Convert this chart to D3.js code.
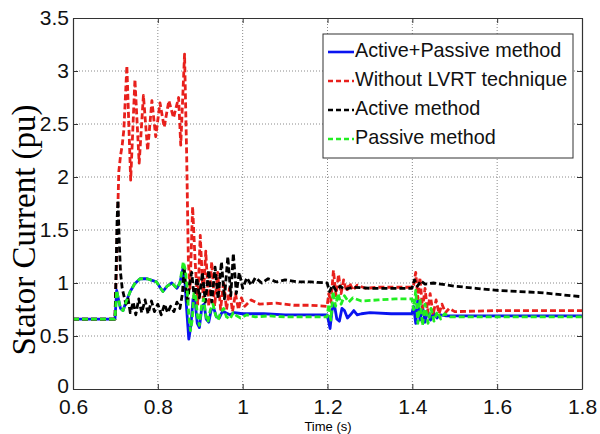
<!DOCTYPE html>
<html>
<head>
<meta charset="utf-8">
<script src="https://cdn.jsdelivr.net/npm/d3@7"></script>
<style>
  body { margin: 0; background: #fff; }
  #chart text { font-family: Arial, 'Liberation Sans', sans-serif; }
</style>
</head>
<body>
<div id="chart"></div>
<script>
// x / y ticks
const xTicks = [0.6, 0.8, 1, 1.2, 1.4, 1.6, 1.8];
const yTicks = [0, 0.5, 1, 1.5, 2, 2.5, 3, 3.5];

const seriesNames = ['Active+Passive method', 'Without LVRT technique', 'Active method', 'Passive method'];

// [time (s), stator current (pu)]
const activePassive = [
  [0.6, 0.66], [0.699, 0.66], [0.703, 0.93], [0.707, 0.85], [0.712, 0.76], [0.718, 0.74],
  [0.725, 0.82], [0.735, 0.92], [0.745, 0.99], [0.758, 1.04], [0.775, 1.04], [0.797, 1.01],
  [0.805, 0.96], [0.812, 0.92], [0.822, 0.97], [0.833, 1.0], [0.845, 0.95], [0.852, 1.0],
  [0.86, 1.15], [0.864, 1.0], [0.868, 0.75], [0.873, 0.47], [0.878, 0.6], [0.883, 0.85],
  [0.888, 0.82], [0.893, 0.62], [0.898, 0.58], [0.904, 0.78], [0.909, 0.8], [0.914, 0.66],
  [0.92, 0.63], [0.926, 0.75], [0.932, 0.76], [0.938, 0.68], [0.945, 0.67], [0.952, 0.73],
  [0.96, 0.72], [0.97, 0.7], [0.98, 0.72], [1.0, 0.71], [1.05, 0.71], [1.1, 0.7], [1.15, 0.7],
  [1.199, 0.7], [1.202, 0.65], [1.206, 0.57], [1.211, 0.75], [1.216, 0.8], [1.222, 0.66],
  [1.228, 0.64], [1.234, 0.76], [1.24, 0.74], [1.247, 0.67], [1.254, 0.7], [1.262, 0.74],
  [1.27, 0.7], [1.28, 0.71], [1.3, 0.72], [1.35, 0.71], [1.399, 0.71], [1.403, 0.78],
  [1.408, 0.62], [1.413, 0.85], [1.418, 0.65], [1.424, 0.78], [1.43, 0.63], [1.436, 0.74],
  [1.443, 0.65], [1.45, 0.72], [1.458, 0.67], [1.466, 0.7], [1.48, 0.69], [1.55, 0.69],
  [1.65, 0.69], [1.8, 0.69]
];

const withoutLvrt = [
  [0.6, 0.66], [0.699, 0.66], [0.702, 1.1], [0.705, 1.6], [0.708, 2.05], [0.712, 2.2],
  [0.716, 2.3], [0.72, 2.45], [0.727, 3.05], [0.736, 1.97], [0.746, 2.92], [0.756, 2.13],
  [0.766, 2.77], [0.776, 2.25], [0.786, 2.72], [0.795, 2.38], [0.805, 2.7], [0.815, 2.47],
  [0.826, 2.72], [0.837, 2.56], [0.849, 2.75], [0.854, 2.3], [0.863, 3.16], [0.868, 2.2],
  [0.872, 1.2], [0.876, 0.95], [0.882, 1.72], [0.888, 1.2], [0.894, 0.8], [0.9, 1.45],
  [0.907, 0.85], [0.913, 1.3], [0.92, 0.78], [0.927, 1.2], [0.934, 0.78], [0.941, 1.1],
  [0.948, 0.75], [0.955, 1.02], [0.962, 0.75], [0.969, 0.95], [0.976, 0.73], [0.983, 0.9],
  [0.99, 0.75], [0.997, 0.86], [1.005, 0.78], [1.02, 0.84], [1.04, 0.8], [1.08, 0.81],
  [1.12, 0.79], [1.16, 0.79], [1.199, 0.78], [1.203, 0.9], [1.208, 0.82], [1.214, 1.12],
  [1.22, 0.88], [1.226, 1.08], [1.232, 0.9], [1.238, 1.03], [1.245, 0.92], [1.252, 1.0],
  [1.26, 0.93], [1.27, 0.98], [1.29, 0.95], [1.32, 0.96], [1.36, 0.96], [1.399, 0.96],
  [1.403, 0.98], [1.408, 1.1], [1.413, 0.85], [1.418, 1.05], [1.424, 0.76], [1.43, 0.95],
  [1.436, 0.72], [1.442, 0.9], [1.449, 0.7], [1.456, 0.84], [1.463, 0.71], [1.47, 0.8],
  [1.478, 0.72], [1.487, 0.76], [1.5, 0.73], [1.6, 0.74], [1.7, 0.74], [1.8, 0.74]
];

const activeMethod = [
  [0.6, 0.66], [0.699, 0.66], [0.701, 1.0], [0.704, 1.6], [0.706, 1.78], [0.709, 1.4],
  [0.712, 1.1], [0.716, 0.95], [0.72, 0.88], [0.725, 0.8], [0.73, 0.85], [0.735, 0.72],
  [0.742, 0.82], [0.748, 0.7], [0.755, 0.85], [0.762, 0.72], [0.77, 0.84], [0.777, 0.71],
  [0.785, 0.83], [0.792, 0.73], [0.8, 0.8], [0.808, 0.7], [0.816, 0.8], [0.823, 0.72],
  [0.83, 0.78], [0.838, 0.73], [0.845, 0.82], [0.852, 0.76], [0.858, 0.9], [0.862, 1.15],
  [0.866, 0.95], [0.87, 0.8], [0.875, 1.0], [0.88, 1.1], [0.886, 0.85], [0.892, 1.05],
  [0.898, 0.86], [0.905, 1.1], [0.912, 0.82], [0.92, 1.12], [0.927, 0.82], [0.935, 1.15],
  [0.942, 0.85], [0.95, 1.2], [0.957, 0.85], [0.965, 1.25], [0.972, 0.88], [0.978, 1.28],
  [0.985, 0.9], [0.992, 1.1], [1.0, 0.95], [1.01, 1.05], [1.02, 0.98], [1.03, 1.05],
  [1.045, 1.0], [1.06, 1.04], [1.08, 1.01], [1.1, 1.03], [1.13, 1.01], [1.16, 1.01],
  [1.199, 1.0], [1.205, 0.92], [1.212, 0.98], [1.22, 0.93], [1.23, 0.97], [1.24, 0.94],
  [1.26, 0.96], [1.3, 0.95], [1.35, 0.95], [1.399, 0.95], [1.405, 1.03], [1.412, 0.97],
  [1.42, 1.02], [1.43, 0.99], [1.45, 1.0], [1.5, 0.97], [1.55, 0.95], [1.6, 0.93],
  [1.65, 0.92], [1.7, 0.91], [1.75, 0.89], [1.8, 0.87]
];

const passiveMethod = [
  [0.6, 0.66], [0.699, 0.66], [0.703, 0.93], [0.707, 0.85], [0.712, 0.76], [0.718, 0.74],
  [0.725, 0.82], [0.735, 0.92], [0.745, 0.99], [0.758, 1.04], [0.775, 1.04], [0.797, 1.01],
  [0.805, 0.96], [0.812, 0.92], [0.822, 0.97], [0.833, 1.0], [0.845, 0.95], [0.852, 1.0],
  [0.86, 1.2], [0.865, 1.12], [0.869, 0.95], [0.873, 0.7], [0.877, 0.55], [0.881, 0.65],
  [0.885, 0.9], [0.889, 0.9], [0.893, 0.7], [0.898, 0.6], [0.903, 0.78], [0.908, 0.85],
  [0.913, 0.7], [0.918, 0.63], [0.924, 0.75], [0.93, 0.8], [0.936, 0.7], [0.942, 0.65],
  [0.948, 0.72], [0.955, 0.76], [0.962, 0.68], [0.97, 0.66], [0.978, 0.72], [0.986, 0.69],
  [0.995, 0.67], [1.01, 0.7], [1.03, 0.68], [1.06, 0.69], [1.1, 0.68], [1.15, 0.68],
  [1.199, 0.68], [1.203, 0.8], [1.208, 0.65], [1.213, 0.92], [1.219, 0.78], [1.225, 0.9],
  [1.232, 0.8], [1.24, 0.88], [1.25, 0.82], [1.26, 0.86], [1.28, 0.83], [1.32, 0.84],
  [1.36, 0.85], [1.399, 0.85], [1.403, 0.75], [1.408, 0.93], [1.413, 0.62], [1.418, 0.85],
  [1.424, 0.6], [1.43, 0.8], [1.437, 0.62], [1.444, 0.76], [1.451, 0.64], [1.459, 0.73],
  [1.467, 0.66], [1.476, 0.71], [1.49, 0.68], [1.55, 0.68], [1.65, 0.68], [1.8, 0.68]
];

const series = [
  { name: seriesNames[0], data: activePassive, color: '#0a14f0', dash: null },
  { name: seriesNames[1], data: withoutLvrt, color: '#e8201c', dash: '6,3' },
  { name: seriesNames[2], data: activeMethod, color: '#000000', dash: '6,3' },
  { name: seriesNames[3], data: passiveMethod, color: '#22ee22', dash: '6,3' }
];

// dimensions and margins of the graph
const margin = { top: 18, right: 18, bottom: 45, left: 73 },
  width = 600 - margin.left - margin.right,
  height = 434 - margin.top - margin.bottom;

const svgRoot = d3
  .select('#chart')
  .append('svg')
  .attr('width', width + margin.left + margin.right)
  .attr('height', height + margin.top + margin.bottom);

const svg = svgRoot
  .append('g')
  .attr('transform', `translate(${margin.left}, ${margin.top})`);

const x = d3.scaleLinear().domain([0.6, 1.8]).range([0, width]);
const y = d3.scaleLinear().domain([0, 3.5]).range([height, 0]);

// dotted grid
svg
  .append('g')
  .selectAll('line')
  .data(xTicks.slice(1, -1))
  .enter()
  .append('line')
  .attr('x1', (d) => x(d))
  .attr('x2', (d) => x(d))
  .attr('y1', 0)
  .attr('y2', height)
  .attr('stroke', '#8a8a8a')
  .attr('stroke-width', 1)
  .attr('stroke-dasharray', '1,2');

svg
  .append('g')
  .selectAll('line')
  .data(yTicks.slice(1, -1))
  .enter()
  .append('line')
  .attr('x1', 0)
  .attr('x2', width)
  .attr('y1', (d) => y(d))
  .attr('y2', (d) => y(d))
  .attr('stroke', '#8a8a8a')
  .attr('stroke-width', 1)
  .attr('stroke-dasharray', '1,2');

// the lines
const line = d3
  .line()
  .x(function (d) {
    return x(d[0]);
  })
  .y(function (d) {
    return y(d[1]);
  });

series.forEach(function (s) {
  svg
    .append('path')
    .datum(s.data)
    .attr('fill', 'none')
    .attr('stroke', s.color)
    .attr('stroke-width', 2.8)
    .attr('stroke-linejoin', 'round')
    .attr('stroke-dasharray', s.dash)
    .attr('d', line);
});

// axes, ticks inside like matlab
const xAxis = svg
  .append('g')
  .attr('transform', `translate(0, ${height})`)
  .call(
    d3.axisBottom(x).tickValues(xTicks).tickSizeInner(-5).tickSizeOuter(0).tickPadding(10)
      .tickFormat(d3.format('~g'))
  );

const yAxis = svg
  .append('g')
  .call(
    d3.axisLeft(y).tickValues(yTicks).tickSizeInner(-5).tickSizeOuter(0).tickPadding(4)
      .tickFormat(d3.format('~g'))
  );

svg
  .append('g')
  .call(d3.axisTop(x).tickValues(xTicks).tickSizeInner(-5).tickSizeOuter(0).tickFormat(''));

svg
  .append('g')
  .attr('transform', `translate(${width}, 0)`)
  .call(d3.axisRight(y).tickValues(yTicks).tickSizeInner(-5).tickSizeOuter(0).tickFormat(''));

svg.selectAll('.domain').attr('stroke', '#333').attr('stroke-width', 1.2);
svg.selectAll('.tick line').attr('stroke', '#333');

xAxis.selectAll('text').style('font-size', '21px').attr('fill', '#111');
yAxis.selectAll('text').style('font-size', '21px').attr('fill', '#111');
// lift the 0 a little so it clears 0.6 underneath
yAxis.selectAll('.tick').filter((d) => d === 0).select('text').attr('y', -3);

// axis labels
svgRoot
  .append('text')
  .attr('x', margin.left + width / 2 + 0.5)
  .attr('y', 431)
  .attr('text-anchor', 'middle')
  .style('font-size', '13px')
  .text('Time (s)');

svgRoot
  .append('text')
  .attr('transform', 'translate(35, 230) rotate(-90)')
  .attr('text-anchor', 'middle')
  .style('font-family', "'Times New Roman', 'Liberation Serif', serif")
  .style('font-size', '33px')
  .text('Stator Current (pu)');

// Legend
const legend = svgRoot.append('g').attr('transform', 'translate(323, 34)');

legend
  .append('rect')
  .attr('width', 250)
  .attr('height', 124)
  .attr('fill', '#fff')
  .attr('stroke', '#333')
  .attr('stroke-width', 1);

series.forEach(function (s, i) {
  const ly = 18 + i * 29;
  legend
    .append('line')
    .attr('x1', 5)
    .attr('x2', 31)
    .attr('y1', ly)
    .attr('y2', ly)
    .attr('stroke', s.color)
    .attr('stroke-width', 2.6)
    .attr('stroke-dasharray', s.dash ? '5,3' : null);
  legend
    .append('text')
    .attr('x', 32)
    .attr('y', ly)
    .attr('dominant-baseline', 'middle')
    .style('font-size', '19.8px')
    .attr('fill', '#111')
    .text(s.name);
});
</script>
</body>
</html>
